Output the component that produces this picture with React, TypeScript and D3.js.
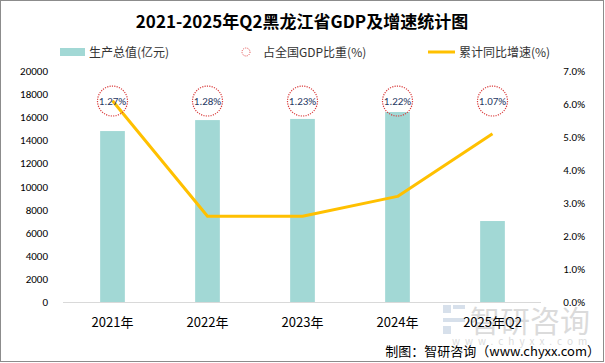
import React from 'react';
import * as d3 from 'd3';

const categories = ['2021年', '2022年', '2023年', '2024年', '2025年Q2'];
const gdpValues = [14800, 15750, 15850, 16450, 7010];
const shareLabels = ['1.27%', '1.28%', '1.23%', '1.22%', '1.07%'];
const growthValues = [6.1, 2.6, 2.6, 3.2, 5.1];
const leftTicks = [0, 2000, 4000, 6000, 8000, 10000, 12000, 14000, 16000, 18000, 20000];
const rightTicks = [0, 1, 2, 3, 4, 5, 6, 7];

const W = 605;
const H = 363;
const font = '"Microsoft YaHei", "Noto Sans CJK SC", sans-serif';
const numFont = 'Calibri, "Liberation Sans", "DejaVu Sans", sans-serif';

const App: React.FC = () => {
  const x = d3.scaleBand<string>().domain(categories).range([65, 540]).paddingInner(0.74).paddingOuter(0.37);
  const yL = d3.scaleLinear().domain([0, 20000]).range([302, 71]);
  const yR = d3.scaleLinear().domain([0, 7]).range([302, 71]);
  const cx = (c: string) => (x(c) ?? 0) + x.bandwidth() / 2;

  const line = d3
    .line<number>()
    .x((_, i) => cx(categories[i]))
    .y((d) => yR(d));

  const markerY = yL(17400);

  return (
    <svg width={W} height={H} style={{ position: 'absolute', left: 0, top: 0 }}>
      <rect x={0.5} y={0.5} width={W - 2} height={H - 2} fill="#fff" stroke="#8c8c8c" />
      <text x={302} y={28} textAnchor="middle" fontSize={17} fontWeight="bold" fontFamily={font} fill="#000">
        2021-2025年Q2黑龙江省GDP及增速统计图
      </text>

      {/* legend */}
      <rect x={60} y={48} width={25} height={8} fill="#a2d8d5" />
      <text x={89} y={57} fontSize={12} fontFamily={font} fill="#333">生产总值(亿元)</text>
      <circle cx={246} cy={52} r={4} fill="none" stroke="#e04040" strokeWidth={1} strokeDasharray="1 1.2" />
      <text x={263} y={57} fontSize={12} fontFamily={font} fill="#333">占全国GDP比重(%)</text>
      <line x1={428} x2={455} y1={52} y2={52} stroke="#ffc000" strokeWidth={3} />
      <text x={459} y={57} fontSize={12} fontFamily={font} fill="#333">累计同比增速(%)</text>

      {/* left axis */}
      {leftTicks.map((t) => (
        <text key={t} x={48} y={yL(t) + 4} textAnchor="end" fontSize={11} fontFamily={numFont} fill="#000">
          {t}
        </text>
      ))}
      {/* right axis */}
      {rightTicks.map((t) => (
        <text key={t} x={585} y={yR(t) + 4} textAnchor="end" fontSize={11} fontFamily={numFont} fill="#000">
          {t.toFixed(1) + '%'}
        </text>
      ))}

      {/* watermark, behind the marks */}
      <g opacity={0.35}>
        <rect x={443} y={305} width={8} height={8} fill="#8fa8c8" />
        <rect x={453} y={305} width={12} height={4} fill="#8fa8c8" />
        <rect x={443} y={318} width={22} height={4} fill="#8fa8c8" />
        <rect x={443} y={326} width={8} height={8} fill="#8fa8c8" />
        <text x={470} y={332} fontSize={30} fontFamily={font} fill="#9a9a9a">智研咨询</text>
        <text x={452} y={345} fontSize={10} fontFamily={font} fill="#9a9a9a" letterSpacing={5}>www.chyxx.com</text>
      </g>

      {/* bars */}
      {gdpValues.map((v, i) => (
        <rect key={i} x={x(categories[i])} y={yL(v)} width={x.bandwidth()} height={yL(0) - yL(v)} fill="#a2d8d5" />
      ))}
      <line x1={63} x2={541} y1={302.5} y2={302.5} stroke="#d9d9d9" />

      {/* category labels */}
      {categories.map((c) => (
        <text key={c} x={cx(c)} y={327} textAnchor="middle" fontSize={13} fontFamily={font} fill="#000">
          {c}
        </text>
      ))}

      {/* growth line */}
      <path d={line(growthValues) ?? ''} fill="none" stroke="#ffc000" strokeWidth={3} strokeLinejoin="round" />

      {/* share markers */}
      {shareLabels.map((s, i) => (
        <g key={i}>
          <circle cx={cx(categories[i])} cy={markerY} r={15} fill="none" stroke="#d93b3b" strokeWidth={1.2} strokeDasharray="1.2 1.2" />
          <text x={cx(categories[i])} y={markerY + 4} textAnchor="middle" fontSize={11} fontFamily={numFont} fill="#1f3864">
            {s}
          </text>
        </g>
      ))}

      <text x={600} y={356} textAnchor="end" fontSize={13} fontFamily={font} fill="#000">
        制图：智研咨询（www.chyxx.com）
      </text>
    </svg>
  );
};

export default App;
